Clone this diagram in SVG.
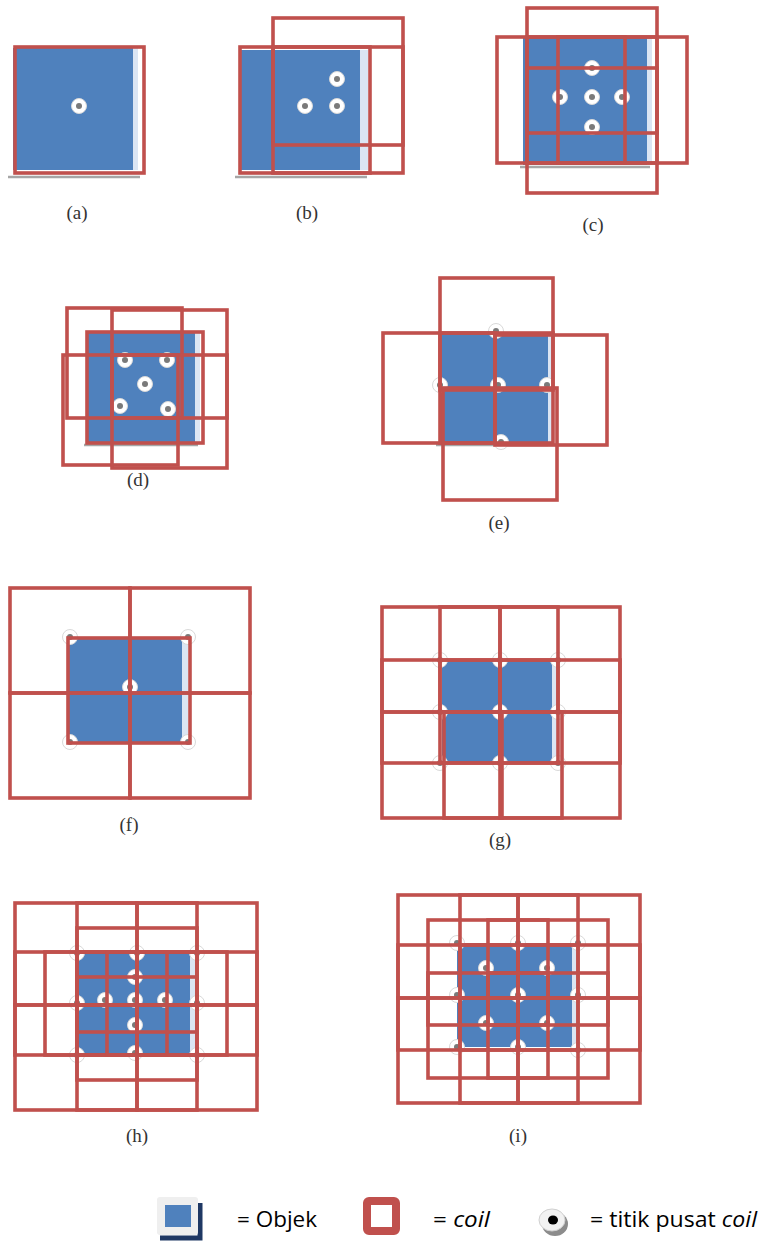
<svg xmlns="http://www.w3.org/2000/svg" xmlns:xlink="http://www.w3.org/1999/xlink" width="763" height="1242" viewBox="0 0 763 1242">
<style>
.obj{fill:#4f81bd}
.strip{fill:#dbe5f3}
.shd{stroke:#a6a6a6;stroke-width:2.5;fill:none}
.coil{fill:none;stroke:#c0504d;stroke-width:3.6}
.lbl{font-family:"Liberation Serif",serif;font-size:19px;fill:#333;text-anchor:middle}
.leg{font-family:"Open Sans","Liberation Sans",sans-serif;font-size:21px;fill:#000}
</style>
<defs>
<g id="pt"><circle r="7.5" fill="#fff" stroke="#d9d9d9" stroke-width="1"/><circle r="3" fill="#7a7a7a"/></g>
</defs>
<rect width="763" height="1242" fill="#fff"/>

<g id="panel-a">
<line class="shd" x1="8" y1="177" x2="140" y2="177"/>
<rect class="strip" x="130" y="48" width="8" height="122"/>
<rect class="obj" x="13" y="48" width="120" height="122"/>
<use xlink:href="#pt" x="79" y="106"/>
<rect class="coil" x="15" y="47" width="129" height="126"/>
<text class="lbl" x="77" y="219">(a)</text>
</g>

<g id="panel-b">
<line class="shd" x1="235" y1="177" x2="367" y2="177"/>
<rect class="strip" x="358" y="50" width="10" height="120"/>
<rect class="obj" x="240" y="50" width="120" height="120"/>
<use xlink:href="#pt" x="337" y="79"/>
<use xlink:href="#pt" x="305" y="106"/>
<use xlink:href="#pt" x="337" y="106"/>
<rect class="coil" x="240" y="47" width="130" height="126"/>
<rect class="coil" x="273" y="18" width="130" height="127"/>
<rect class="coil" x="273" y="47" width="130" height="126"/>
<text class="lbl" x="307" y="219">(b)</text>
</g>

<g id="panel-c">
<line class="shd" x1="520" y1="167" x2="650" y2="167"/>
<rect class="strip" x="645" y="37" width="7" height="128"/>
<rect class="obj" x="523" y="37" width="124" height="128"/>
<use xlink:href="#pt" x="592" y="68"/>
<use xlink:href="#pt" x="560" y="97"/>
<use xlink:href="#pt" x="592" y="97"/>
<use xlink:href="#pt" x="622" y="97"/>
<use xlink:href="#pt" x="592" y="127"/>
<rect class="coil" x="527" y="37" width="130" height="126"/>
<rect class="coil" x="527" y="8" width="130" height="125"/>
<rect class="coil" x="527" y="68" width="130" height="125"/>
<rect class="coil" x="497" y="37" width="128" height="126"/>
<rect class="coil" x="558" y="37" width="129" height="126"/>
<text class="lbl" x="593" y="231">(c)</text>
</g>

<g id="panel-d">
<line class="shd" x1="84" y1="445" x2="198" y2="445"/>
<rect class="strip" x="193" y="333" width="7" height="110"/>
<rect class="obj" x="87" y="333" width="108" height="110"/>
<use xlink:href="#pt" x="125" y="360"/>
<use xlink:href="#pt" x="167" y="360"/>
<use xlink:href="#pt" x="145" y="384"/>
<use xlink:href="#pt" x="120" y="406"/>
<use xlink:href="#pt" x="168" y="409"/>
<rect class="coil" x="87" y="332" width="116" height="111"/>
<rect class="coil" x="67" y="308" width="115" height="110"/>
<rect class="coil" x="112" y="310" width="115" height="108"/>
<rect class="coil" x="63" y="355" width="115" height="110"/>
<rect class="coil" x="112" y="355" width="115" height="113"/>
<text class="lbl" x="138" y="486">(d)</text>
</g>

<g id="panel-e">
<line class="shd" x1="436" y1="445" x2="548" y2="445"/>
<rect class="strip" x="546" y="333" width="7" height="110"/>
<rect class="obj" x="440" y="333" width="108" height="110"/>
<use xlink:href="#pt" x="496" y="331"/>
<use xlink:href="#pt" x="440" y="385"/>
<use xlink:href="#pt" x="498" y="385"/>
<use xlink:href="#pt" x="547" y="385"/>
<use xlink:href="#pt" x="501" y="442"/>
<rect class="coil" x="440" y="333" width="113" height="110"/>
<rect class="coil" x="440" y="278" width="113" height="112"/>
<rect class="coil" x="383" y="333" width="112" height="110"/>
<rect class="coil" x="495" y="335" width="112" height="110"/>
<rect class="coil" x="443" y="388" width="114" height="112"/>
<text class="lbl" x="499" y="529">(e)</text>
</g>

<g id="panel-f">
<rect class="strip" x="180" y="638" width="8" height="105"/>
<rect class="obj" x="68" y="638" width="114" height="105"/>
<use xlink:href="#pt" x="70" y="637"/>
<use xlink:href="#pt" x="188" y="637"/>
<use xlink:href="#pt" x="70" y="742"/>
<use xlink:href="#pt" x="188" y="742"/>
<use xlink:href="#pt" x="130" y="687"/>
<rect class="coil" x="68" y="638" width="122" height="105"/>
<rect class="coil" x="10" y="588" width="120" height="105"/>
<rect class="coil" x="130" y="588" width="120" height="105"/>
<rect class="coil" x="10" y="693" width="120" height="105"/>
<rect class="coil" x="130" y="693" width="120" height="105"/>
<text class="lbl" x="129" y="831">(f)</text>
</g>

<g id="panel-g">
<rect class="strip" x="550" y="660" width="7" height="102"/>
<rect class="obj" x="442" y="660" width="110" height="102"/>
<use xlink:href="#pt" x="440" y="660"/>
<use xlink:href="#pt" x="500" y="660"/>
<use xlink:href="#pt" x="558" y="660"/>
<use xlink:href="#pt" x="440" y="712"/>
<use xlink:href="#pt" x="500" y="712"/>
<use xlink:href="#pt" x="558" y="712"/>
<use xlink:href="#pt" x="440" y="763"/>
<use xlink:href="#pt" x="500" y="763"/>
<use xlink:href="#pt" x="558" y="763"/>
<rect class="coil" x="382" y="607" width="118" height="105"/>
<rect class="coil" x="440" y="607" width="118" height="105"/>
<rect class="coil" x="500" y="607" width="120" height="105"/>
<rect class="coil" x="382" y="660" width="118" height="103"/>
<rect class="coil" x="440" y="660" width="118" height="103"/>
<rect class="coil" x="500" y="660" width="120" height="103"/>
<rect class="coil" x="382" y="712" width="120" height="106"/>
<rect class="coil" x="444" y="712" width="118" height="106"/>
<rect class="coil" x="500" y="712" width="120" height="106"/>
<text class="lbl" x="500" y="846">(g)</text>
</g>

<g id="panel-h">
<rect class="strip" x="188" y="953" width="9" height="102"/>
<rect class="obj" x="77" y="953" width="113" height="102"/>
<use xlink:href="#pt" x="77" y="953"/>
<use xlink:href="#pt" x="137" y="953"/>
<use xlink:href="#pt" x="197" y="953"/>
<use xlink:href="#pt" x="77" y="1003"/>
<use xlink:href="#pt" x="197" y="1003"/>
<use xlink:href="#pt" x="77" y="1055"/>
<use xlink:href="#pt" x="197" y="1055"/>
<use xlink:href="#pt" x="135" y="977"/>
<use xlink:href="#pt" x="105" y="1000"/>
<use xlink:href="#pt" x="135" y="1000"/>
<use xlink:href="#pt" x="165" y="1000"/>
<use xlink:href="#pt" x="135" y="1025"/>
<use xlink:href="#pt" x="135" y="1053"/>
<rect class="coil" x="15" y="903" width="122" height="102"/>
<rect class="coil" x="77" y="903" width="120" height="102"/>
<rect class="coil" x="137" y="903" width="120" height="102"/>
<rect class="coil" x="15" y="952" width="122" height="103"/>
<rect class="coil" x="77" y="952" width="120" height="103"/>
<rect class="coil" x="137" y="952" width="120" height="103"/>
<rect class="coil" x="15" y="1005" width="122" height="105"/>
<rect class="coil" x="77" y="1005" width="120" height="105"/>
<rect class="coil" x="137" y="1005" width="120" height="105"/>
<rect class="coil" x="45" y="952" width="122" height="103"/>
<rect class="coil" x="107" y="952" width="120" height="103"/>
<rect class="coil" x="77" y="928" width="120" height="104"/>
<rect class="coil" x="77" y="977" width="120" height="103"/>
<text class="lbl" x="137" y="1142">(h)</text>
</g>

<g id="panel-i">
<rect class="strip" x="570" y="943" width="8" height="104"/>
<rect class="obj" x="457" y="943" width="115" height="104"/>
<use xlink:href="#pt" x="457" y="943"/>
<use xlink:href="#pt" x="518" y="943"/>
<use xlink:href="#pt" x="578" y="943"/>
<use xlink:href="#pt" x="457" y="995"/>
<use xlink:href="#pt" x="518" y="995"/>
<use xlink:href="#pt" x="578" y="995"/>
<use xlink:href="#pt" x="457" y="1047"/>
<use xlink:href="#pt" x="518" y="1047"/>
<use xlink:href="#pt" x="578" y="1050"/>
<use xlink:href="#pt" x="486" y="968"/>
<use xlink:href="#pt" x="547" y="968"/>
<use xlink:href="#pt" x="486" y="1023"/>
<use xlink:href="#pt" x="547" y="1023"/>
<rect class="coil" x="398" y="895" width="120" height="103"/>
<rect class="coil" x="460" y="895" width="118" height="103"/>
<rect class="coil" x="518" y="895" width="122" height="103"/>
<rect class="coil" x="398" y="945" width="120" height="105"/>
<rect class="coil" x="460" y="945" width="118" height="105"/>
<rect class="coil" x="518" y="945" width="122" height="105"/>
<rect class="coil" x="398" y="998" width="120" height="105"/>
<rect class="coil" x="460" y="998" width="118" height="105"/>
<rect class="coil" x="518" y="998" width="122" height="105"/>
<rect class="coil" x="428" y="920" width="120" height="105"/>
<rect class="coil" x="488" y="920" width="120" height="105"/>
<rect class="coil" x="428" y="973" width="120" height="105"/>
<rect class="coil" x="488" y="973" width="120" height="105"/>
<text class="lbl" x="518" y="1142">(i)</text>
</g>

<g id="legend">
<path d="M160 1238 H200 V1203" fill="none" stroke="#1f3864" stroke-width="5"/>
<rect x="157" y="1197" width="41" height="38" rx="3" fill="#efefef"/>
<rect x="165" y="1205" width="26" height="22" fill="#4f81bd"/>
<text class="leg" x="237" y="1227" textLength="80" lengthAdjust="spacingAndGlyphs">= Objek</text>
<rect x="367" y="1201" width="29" height="30" rx="2" fill="#fff" stroke="#c0504d" stroke-width="8"/>
<text class="leg" x="433" y="1227" textLength="57" lengthAdjust="spacingAndGlyphs">= <tspan font-style="italic">coil</tspan></text>
<ellipse cx="555" cy="1224" rx="13" ry="12" fill="#8c8c8c"/>
<ellipse cx="552" cy="1220" rx="13" ry="11" fill="#f2f2f2" stroke="#d0d0d0" stroke-width="1"/>
<ellipse cx="553" cy="1220" rx="5" ry="4.5" fill="#000"/>
<text class="leg" x="590" y="1227" textLength="167" lengthAdjust="spacingAndGlyphs">= titik pusat <tspan font-style="italic">coil</tspan></text>
</g>
</svg>
